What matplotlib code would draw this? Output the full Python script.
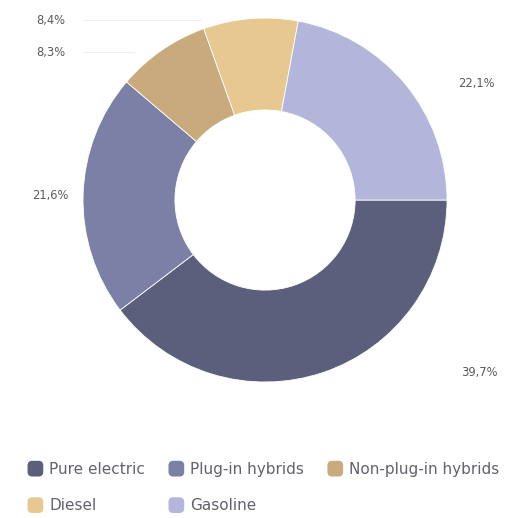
import matplotlib.pyplot as plt
from matplotlib.patches import FancyBboxPatch
from matplotlib.legend_handler import HandlerPatch

# Fuel type share
categories = ['Pure electric', 'Plug-in hybrids', 'Non-plug-in hybrids', 'Diesel', 'Gasoline']
shares = [39.7, 21.6, 8.3, 8.4, 22.1]
colors = ['#5c5f7b', '#7d80a6', '#c9aa7d', '#e7c891', '#b3b6da']

# label anchors (data units, pie radius = 1)
label_pos = [(1.175, -0.95), (-1.18, 0.027), (-1.175, 0.813), (-1.175, 0.989), (1.16, 0.643)]

fig = plt.figure(figsize=(5.19, 5.18), dpi=100)
ax = fig.add_axes([0.16, 0.2625, 0.7013, 0.7027])

wedges, _ = ax.pie(shares, colors=colors, startangle=0, counterclock=False,
                   radius=1.0, wedgeprops=dict(width=0.505, edgecolor='white', linewidth=0.6))

for val, (x, y) in zip(shares, label_pos):
    ax.text(x, y, f'{val:.1f}%'.replace('.', ','), ha='center', va='center',
            fontsize=8.3, color='#5a5a5a')

# faint connector lines for the two small slices
ax.plot([-1.04, -0.35], [0.989, 0.989], color='#eeeeee', lw=0.8, zorder=0)
ax.plot([-1.04, -0.72], [0.813, 0.813], color='#eeeeee', lw=0.8, zorder=0)

ax.set_xlim(-1, 1)
ax.set_ylim(-1, 1)
ax.axis('off')


class RoundBox(HandlerPatch):
    def create_artists(self, legend, orig_handle, xdescent, ydescent, width, height, fontsize, trans):
        s = height * 1.15
        p = FancyBboxPatch((-xdescent + (width - s) / 2, -ydescent + (height - s) / 2), s, s,
                           boxstyle='round,pad=0,rounding_size=%f' % (s * 0.3),
                           facecolor=orig_handle.get_facecolor(), edgecolor='none',
                           transform=trans)
        return [p]


order = [0, 3, 1, 4, 2]
handles = [wedges[i] for i in order]
labels = [categories[i] for i in order]
leg = fig.legend(handles, labels, ncol=3, loc='upper left', bbox_to_anchor=(0.027, 0.135),
                 frameon=False, fontsize=11, handlelength=1.0, handleheight=1.0,
                 handletextpad=0.4, columnspacing=1.55, labelspacing=1.4,
                 handler_map={w: RoundBox() for w in wedges})
for t in leg.get_texts():
    t.set_color('#62626e')

fig.savefig('out.png', dpi=100)
